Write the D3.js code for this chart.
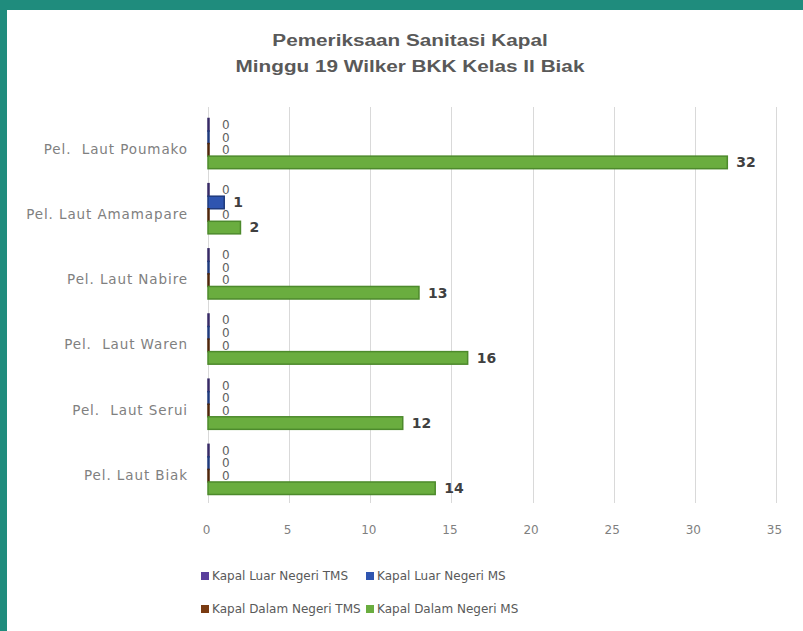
<!DOCTYPE html>
<html>
<head>
<meta charset="utf-8">
<script src="https://cdn.jsdelivr.net/npm/d3@7"></script>
<style>
  body { margin: 0; background: #fff; }
</style>
</head>
<body>
<svg class="chart"></svg>
<script>
// data
var categories = ["Pel.  Laut Poumako", "Pel. Laut Amamapare", "Pel. Laut Nabire",
                  "Pel.  Laut Waren", "Pel.  Laut Serui", "Pel. Laut Biak"];
var seriesNames = ["Kapal Luar Negeri TMS", "Kapal Luar Negeri MS",
                   "Kapal Dalam Negeri TMS", "Kapal Dalam Negeri MS"];
var luarTMS   = [0, 0, 0, 0, 0, 0];
var luarMS    = [0, 1, 0, 0, 0, 0];
var dalamTMS  = [0, 0, 0, 0, 0, 0];
var dalamMS   = [32, 2, 13, 16, 12, 14];
var xTicks = [0, 5, 10, 15, 20, 25, 30, 35];
var titleLines = ["Pemeriksaan Sanitasi Kapal", "Minggu 19 Wilker BKK Kelas II Biak"];

var fills   = ["#5a3f9c", "#2f55b0", "#7a3b12", "#6aad3f"];
var strokes = ["#372a66", "#1f3a7c", "#4f260a", "#4d8a2c"];

var W = 803, H = 631;

var svg = d3.select(".chart")
    .attr("width", W)
    .attr("height", H);

// teal frame (top and left edges are all that show)
svg.append("rect")
    .attr("x", 0).attr("y", 0)
    .attr("width", W).attr("height", 10)
    .attr("fill", "#1f8c7d");
svg.append("rect")
    .attr("x", 0).attr("y", 0)
    .attr("width", 7).attr("height", H)
    .attr("fill", "#1f8c7d");

// the source picture is stretched sideways, so the title is too
var title = svg.append("g")
    .attr("transform", "translate(410,0) scale(1.22,1)")
  .append("text")
    .attr("text-anchor", "middle")
    .style("font", "bold 17px 'Liberation Sans', Arial, sans-serif")
    .attr("fill", "#595959");
title.selectAll("tspan")
    .data(titleLines)
    .enter().append("tspan")
    .attr("x", 0)
    .attr("y", function(d, i) { return 46 + i * 26; })
    .text(function(d) { return d; });

var rows = categories.map(function(c, i) {
  return { cat: c, vals: [luarTMS[i], luarMS[i], dalamTMS[i], dalamMS[i]] };
});

var x = d3.scaleLinear()
    .domain([0, 35])
    .range([208, 776]);

var y = d3.scaleBand()
    .domain(categories)
    .range([111, 502])
    .paddingInner(0.23)
    .paddingOuter(0.115);

var y1 = d3.scaleBand()
    .domain(d3.range(seriesNames.length))
    .range([0, y.bandwidth()]);

// gridlines
svg.append("g")
    .selectAll("line")
    .data(xTicks)
    .enter().append("line")
    .attr("x1", function(d) { return Math.round(x(d)) + 0.5; })
    .attr("x2", function(d) { return Math.round(x(d)) + 0.5; })
    .attr("y1", 107)
    .attr("y2", 503)
    .attr("stroke", "#d9d9d9")
    .attr("stroke-width", 1);

// x axis labels
var xAxis = d3.axisBottom(x).tickValues(xTicks).tickSize(0).tickPadding(0);
var gx = svg.append("g")
    .attr("transform", "translate(-2,525)")
    .call(xAxis);
gx.select(".domain").remove();
gx.selectAll("text")
    .style("font", "12px 'DejaVu Sans', sans-serif")
    .attr("fill", "#7f7f7f");

// category labels
var yAxis = d3.axisLeft(y).tickSize(0).tickPadding(0);
var gy = svg.append("g")
    .attr("transform", "translate(188,6)")
    .call(yAxis);
gy.select(".domain").remove();
gy.selectAll("text")
    .style("font", "13.5px 'DejaVu Sans', sans-serif")
    .style("letter-spacing", "0.9px")
    .style("white-space", "pre")
    .attr("fill", "#808080");

// bars
var groups = svg.append("g")
    .selectAll(".grp")
    .data(rows)
    .enter().append("g")
    .attr("class", "grp")
    .attr("transform", function(d) { return "translate(0," + y(d.cat) + ")"; });

// zero values still leave their outline on the axis
groups.selectAll("rect")
    .data(function(d) { return d.vals; })
    .enter().append("rect")
    .attr("x", x(0))
    .attr("y", function(d, i) { return y1(i); })
    .attr("width", function(d) { return Math.max(x(d) - x(0), 1); })
    .attr("height", y1.bandwidth())
    .attr("fill", function(d, i) { return fills[i]; })
    .attr("stroke", function(d, i) { return strokes[i]; })
    .attr("stroke-width", 1.5);

// data labels
groups.selectAll(".lbl")
    .data(function(d) { return d.vals; })
    .enter().append("text")
    .attr("class", "lbl")
    .attr("x", function(d) { return x(d) + (d ? 9 : 14); })
    .attr("y", function(d, i) { return y1(i) + y1.bandwidth() / 2; })
    .attr("dy", "0.35em")
    .style("font", function(d) {
      return d ? "bold 14px 'DejaVu Sans', sans-serif" : "12px 'DejaVu Sans', sans-serif";
    })
    .attr("fill", function(d) { return d ? "#404040" : "#606060"; })
    .text(function(d) { return d; });

// legend
var legend = svg.append("g")
    .selectAll(".legend")
    .data(seriesNames)
    .enter().append("g")
    .attr("class", "legend")
    .attr("transform", function(d, i) {
      return "translate(" + (i % 2 ? 366 : 201) + "," + (i < 2 ? 576 : 609) + ")";
    });

legend.append("rect")
    .attr("x", 0)
    .attr("y", -4)
    .attr("width", 8)
    .attr("height", 8)
    .attr("fill", function(d, i) { return fills[i]; });

legend.append("text")
    .attr("x", 11)
    .attr("dy", "0.35em")
    .style("font", "12px 'DejaVu Sans', sans-serif")
    .attr("fill", "#595959")
    .text(function(d) { return d; });
</script>
</body>
</html>
